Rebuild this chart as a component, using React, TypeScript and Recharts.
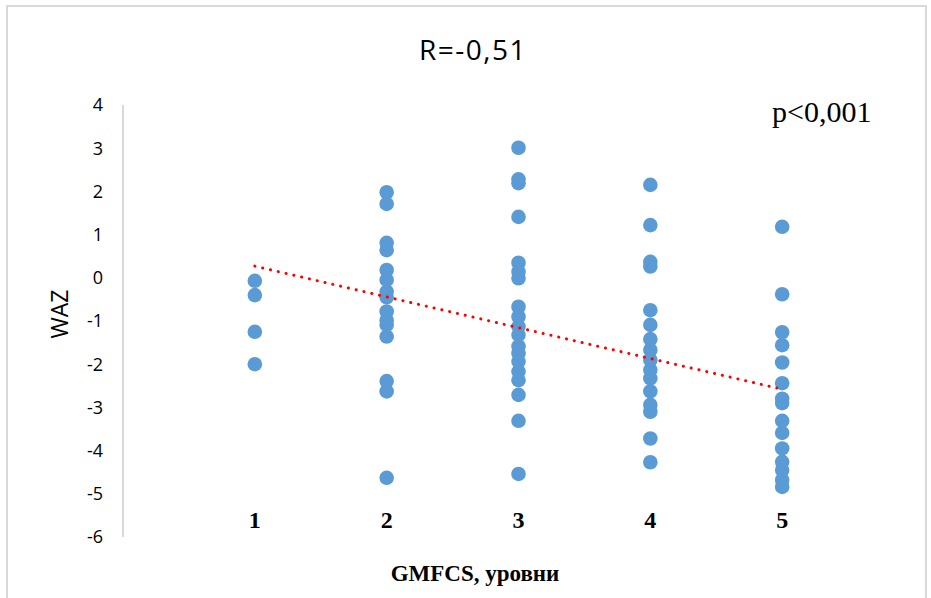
import { ScatterChart, Scatter, XAxis, YAxis } from "recharts";

// WAZ values, one list per GMFCS level
const level1 = [-0.07, -0.4, -1.25, -2.0];
const level2 = [1.98, 1.71, 0.81, 0.64, 0.18, -0.05, -0.32, -0.45, -0.78, -0.98, -1.09, -1.36, -2.39, -2.63, -4.63];
const level3 = [3.01, 2.28, 2.19, 1.41, 0.35, 0.14, -0.01, -0.67, -0.9, -1.13, -1.32, -1.59, -1.75, -1.94, -2.17, -2.37, -2.71, -3.31, -4.54];
const level4 = [2.15, 1.22, 0.37, 0.26, -0.75, -1.09, -1.42, -1.67, -1.9, -2.13, -2.33, -2.63, -2.94, -3.1, -3.72, -4.27];
const level5 = [1.18, -0.38, -1.26, -1.56, -1.96, -2.44, -2.8, -2.9, -3.31, -3.59, -3.95, -4.26, -4.45, -4.68, -4.84];

const levels = [1, 2, 3, 4, 5];
const yTicks = [4, 3, 2, 1, 0, -1, -2, -3, -4, -5, -6];

// linear trend, end points
const trendX = [1, 5];
const trendY = [0.27, -2.58];

const points = [level1, level2, level3, level4, level5].flatMap((vals, i) =>
  vals.map((v) => ({ x: levels[i], y: v }))
);
const trend = trendX.map((x, i) => ({ x, y: trendY[i] }));

const XTick = ({ x, y, payload }: any) => (
  <text
    x={x}
    y={y}
    dy={-17}
    textAnchor="middle"
    fontFamily="'Liberation Serif', serif"
    fontWeight="bold"
    fontSize={24}
    fill="#000"
  >
    {payload.value}
  </text>
);

export default function App() {
  return (
    <div
      style={{
        position: "absolute",
        left: 0,
        top: 0,
        width: 931,
        height: 598,
        overflow: "hidden",
        background: "#fff",
      }}
    >
      <div
        style={{
          position: "absolute",
          left: 6,
          top: 5,
          width: 917,
          height: 640,
          border: "2px solid #d9d9d9",
        }}
      />
      <ScatterChart
        width={931}
        height={598}
        margin={{ top: 105, right: 17, left: 0, bottom: 0 }}
        style={{ position: "absolute", left: 0, top: 0 }}
      >
        <XAxis
          type="number"
          dataKey="x"
          domain={[0, 6]}
          ticks={levels}
          axisLine={false}
          tickLine={false}
          height={61}
          tick={<XTick />}
        />
        <YAxis
          type="number"
          dataKey="y"
          domain={[-6, 4]}
          ticks={yTicks}
          width={123}
          tickLine={false}
          tickMargin={14}
          axisLine={{ stroke: "#d9d9d9", strokeWidth: 2 }}
          tick={{ fill: "#000", fontSize: 18, fontFamily: "'Open Sans', sans-serif" }}
        />
        <Scatter
          data={points}
          fill="#5b9bd5"
          isAnimationActive={false}
          shape={(p: any) => <circle cx={p.cx} cy={p.cy} r={7.3} fill="#5b9bd5" />}
        />
        <Scatter
          data={trend}
          isAnimationActive={false}
          line={{
            stroke: "#ff0000",
            strokeWidth: 3,
            strokeDasharray: "0.1 7.9",
            strokeLinecap: "round",
          }}
          shape={() => <g />}
        />
      </ScatterChart>
      <svg
        width={931}
        height={598}
        style={{ position: "absolute", left: 0, top: 0, pointerEvents: "none" }}
      >
        <text
          x={473}
          y={60}
          textAnchor="middle"
          fontFamily="'Open Sans', sans-serif"
          fontSize={28}
          letterSpacing={1.5}
          fill="#000"
        >
          R=-0,51
        </text>
        <text
          x={772}
          y={122}
          fontFamily="'Liberation Serif', serif"
          fontSize={30}
          fill="#000"
        >
          p&lt;0,001
        </text>
        <text
          x={475}
          y={581}
          textAnchor="middle"
          fontFamily="'Liberation Serif', serif"
          fontWeight="bold"
          fontSize={23}
          fill="#000"
        >
          GMFCS, уровни
        </text>
        <text
          transform="translate(68, 314) rotate(-90)"
          textAnchor="middle"
          fontFamily="'Open Sans', sans-serif"
          fontSize={23}
          fill="#000"
        >
          WAZ
        </text>
      </svg>
    </div>
  );
}
